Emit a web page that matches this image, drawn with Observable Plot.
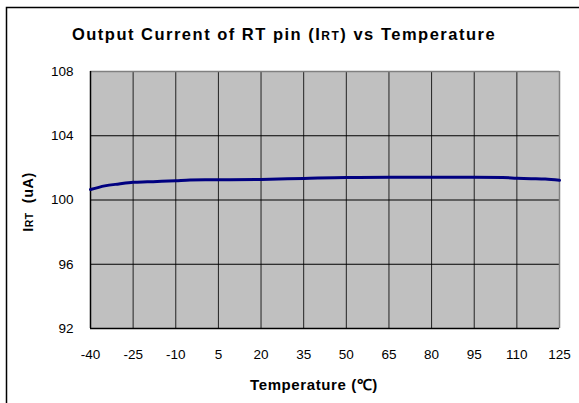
<!DOCTYPE html>
<html>
<head>
<meta charset="utf-8">
<script src="https://cdn.jsdelivr.net/npm/d3@7"></script>
<script src="https://cdn.jsdelivr.net/npm/@observablehq/plot@0.6"></script>
<style>
  html, body { margin: 0; padding: 0; background: #fff; }
  #chart { position: relative; width: 579px; height: 403px; overflow: hidden; }
</style>
</head>
<body>
<div id="chart"></div>
<script>
const titleText = "Output Current of RT pin (IRT) vs Temperature";
const xLabel = "Temperature (℃)";
const yLabel = "IRT (uA)";
const temps   = [-40, -35, -30, -25, -20, -15, -10, -5, 5, 20, 35, 50, 65, 80, 95, 105, 110, 115, 120, 125];
const current = [100.65, 100.88, 101.0, 101.1, 101.13, 101.16, 101.2, 101.25, 101.26, 101.28, 101.34, 101.4, 101.41, 101.41, 101.41, 101.4, 101.36, 101.33, 101.3, 101.23];
const xTicks = [-40, -25, -10, 5, 20, 35, 50, 65, 80, 95, 110, 125];
const yTicks = [92, 96, 100, 104, 108];

const data = temps.map((t, i) => ({t, v: current[i]}));

const plot = Plot.plot({
  width: 579, height: 403,
  marginLeft: 90, marginRight: 20, marginTop: 71, marginBottom: 75,
  style: {fontFamily: "'Liberation Sans', Arial, sans-serif", fontSize: "13px", background: "transparent", color: "#000"},
  x: {domain: [-40, 125], label: null},
  y: {domain: [92, 108], label: null},
  marks: [
    Plot.frame({fill: "#C0C0C0", stroke: null}),
    Plot.gridX(xTicks, {stroke: "#222", strokeOpacity: 1, strokeWidth: 1}),
    Plot.gridY(yTicks, {stroke: "#000", strokeOpacity: 1, strokeWidth: 1}),
    Plot.ruleY([yTicks[yTicks.length - 1]], {stroke: "#808080", strokeWidth: 1.5}),
    Plot.ruleX([xTicks[xTicks.length - 1]], {stroke: "#808080", strokeWidth: 1.5}),
    Plot.ruleX([xTicks[0]], {stroke: "#000", strokeWidth: 1.5}),
    Plot.ruleY([yTicks[0]], {stroke: "#000", strokeWidth: 1.5}),
    Plot.axisX(xTicks, {tickSize: 0, tickPadding: 21, fontSize: 13.5, label: null, tickFormat: d => String(d)}),
    Plot.axisY(yTicks, {tickSize: 0, tickPadding: 17, fontSize: 13.5, label: null, tickFormat: d => String(d)}),
    Plot.line(data, {x: "t", y: "v", stroke: "#000080", strokeWidth: 3, curve: "monotone-x"}),
    Plot.text([titleText], {frameAnchor: "top", dy: -37, dx: -41, lineAnchor: "middle", fontSize: 16.5, fontWeight: "bold", fill: "#000"}),
    Plot.text([xLabel], {frameAnchor: "bottom", dy: 57, dx: -11, lineAnchor: "middle", fontSize: 15, fontWeight: "bold", fill: "#000"}),
    Plot.text([yLabel], {frameAnchor: "left", textAnchor: "middle", dx: -62, dy: 2, rotate: -90, lineAnchor: "middle", fontSize: 14.5, fontWeight: "bold", fill: "#000"})
  ]
});

document.getElementById("chart").appendChild(plot);

const svg = d3.select(plot);
svg.selectAll("text").each(function() {
  const el = d3.select(this);
  const txt = this.textContent;
  if (txt === titleText) {
    el.attr("letter-spacing", "1.5px");
    el.text(null);
    el.append("tspan").text("Output Current of RT pin (I");
    el.append("tspan").attr("font-size", 12).text("RT");
    el.append("tspan").text(") vs Temperature");
  } else if (txt === yLabel) {
    el.attr("letter-spacing", "0.5px");
    el.text(null);
    el.append("tspan").text("I");
    el.append("tspan").attr("font-size", 10.5).text("RT");
    el.append("tspan").attr("xml:space", "preserve").text("\u00a0 (uA)");
  } else if (txt === xLabel) {
    el.attr("letter-spacing", "0.6px");
  }
});
// outer chart-area border (left & top edges visible)
svg.append("rect")
  .attr("x", 6.5).attr("y", 7.5).attr("width", 700).attr("height", 600)
  .attr("fill", "none").attr("stroke", "#000").attr("stroke-width", 1.5);
</script>
</body>
</html>
